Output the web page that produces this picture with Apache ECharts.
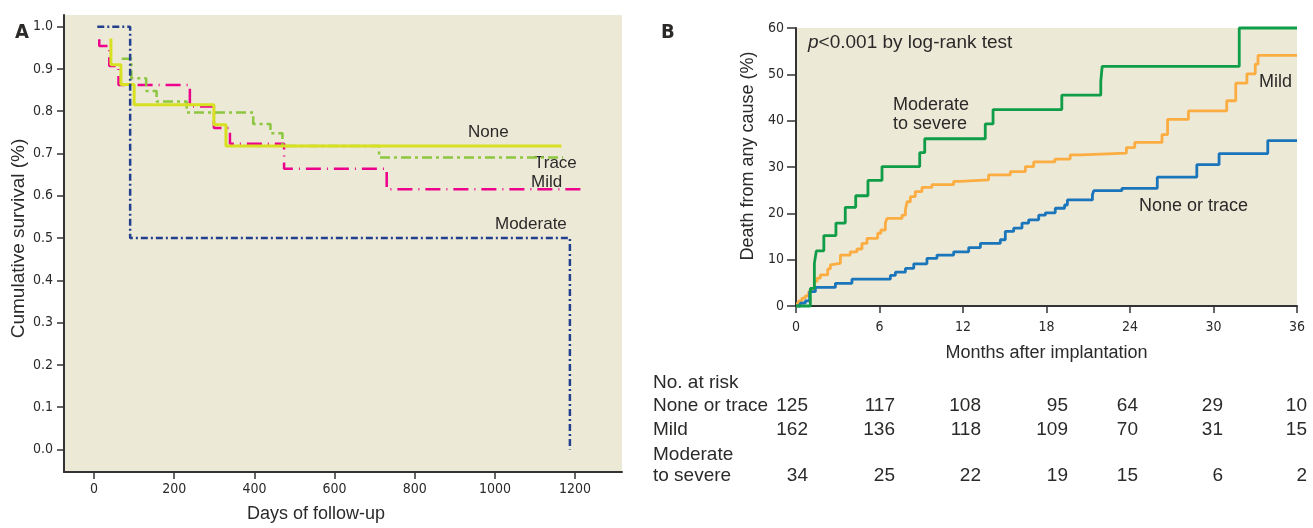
<!DOCTYPE html>
<html>
<head>
<meta charset="utf-8">
<script src="https://cdn.jsdelivr.net/npm/echarts@6/dist/echarts.min.js"></script>
<style>
html,body{margin:0;padding:0;background:#fff;}
#c{width:1313px;height:528px;}
</style>
</head>
<body>
<div id="c"></div>
<script>
// ---------- Panel A data (days, cumulative survival), step points ----------
const aNone     = [[42,0.972],[42,0.91],[67,0.863],[100,0.815],[299,0.768],[329,0.7176],[1166,0.7176]];
const aTrace    = [[69,0.924],[93,0.878],[130,0.848],[156,0.823],[231,0.797],[397,0.77],[440,0.748],[470,0.7176],[711,0.6905],[1170,0.6905]];
const aMild     = [[13,0.97],[13,0.954],[38,0.907],[61,0.862],[239,0.811],[299,0.76],[339,0.723],[474,0.664],[730,0.6155],[1220,0.6155]];
const aModerate = [[8,1.0],[90,0.5],[1187,0.0]];
const aYTicks = [0,0.1,0.2,0.3,0.4,0.5,0.6,0.7,0.8,0.9,1.0];
const aXTicks = [0,200,400,600,800,1000,1200];

// ---------- Panel B data (months, death %), step points ----------
const bNoneTrace = [[0,0],[0.3,0.6],[0.67,1.1],[0.98,3.1],[1.39,4.0],[2.83,4.9],[4.02,5.8],[6.78,6.6],[7.14,7.3],[7.86,8.1],[8.46,9.1],[9.41,10.3],[10.13,11.0],[11.33,11.7],[12.41,12.6],[13.25,13.5],[14.68,14.3],[15.04,16.1],[15.64,16.8],[16.24,17.9],[16.72,18.6],[17.44,19.6],[17.92,20.1],[18.63,21.1],[19.3,21.8],[19.5,22.9],[21.3,24.0],[21.4,24.9],[23.42,25.4],[25.96,27.8],[28.8,30.5],[30.4,32.9],[33.9,35.7],[36,35.7]];
const bMild = [[0,0.5],[0.19,1.1],[0.43,1.7],[0.67,2.2],[0.91,3.1],[1.15,3.8],[1.32,5.3],[1.51,6.0],[1.75,6.7],[2.28,8.0],[2.47,8.9],[2.59,9.2],[3.19,11.0],[3.9,11.7],[4.38,12.3],[4.74,13.5],[5.1,14.6],[5.87,15.7],[6.1,16.4],[6.42,17.9],[6.54,18.9],[7.62,19.6],[7.86,20.7],[7.98,22.5],[8.22,23.6],[8.57,24.7],[9.05,25.6],[9.77,26.2],[11.33,26.9],[11.81,27.2],[13.84,28.3],[15.4,29.0],[16.48,30.1],[17.08,31.1],[18.6,31.7],[19.7,32.6],[20.5,33.0],[23.74,34.2],[24.34,35.3],[26.3,37.0],[26.7,40.3],[28.2,42.1],[30.95,44.3],[31.6,48.1],[32.4,50.1],[33.0,52.2],[33.2,54.1],[36,54.1]];
const bModSevere = [[0,0],[1.03,3.8],[1.32,9.2],[1.46,11.9],[2.0,15.2],[2.87,17.9],[3.54,21.3],[4.29,23.8],[5.17,27.1],[6.18,30.1],[8.89,33.1],[9.25,36.1],[13.6,39.3],[14.16,42.4],[19.1,45.5],[21.9,48.5],[22.0,51.7],[31.85,60],[36,60]];

// ---------- Number at risk ----------
const riskTimes = [0,6,12,18,24,30,36];
const riskNone = [125,117,108,95,64,29,10];
const riskMild = [162,136,118,109,70,31,15];
const riskMod  = [34,25,22,19,15,6,2];

// ---------- layout / style ----------
const BG = '#ece9d7';
const TXT = '#2b2a29';
const narrow = '"Liberation Sans Narrow","DejaVu Sans Condensed",sans-serif';
const reg = '"Liberation Sans",Arial,sans-serif';
const colRight = [808,895,981,1068,1138,1223,1307];

const chart = echarts.init(document.getElementById('c'));

function axisCommon(){
  return {
    axisLine:{show:true,onZero:false,lineStyle:{color:'#333',width:2}},
    axisTick:{show:true,inside:false,length:7,lineStyle:{color:'#333',width:1.5}},
    splitLine:{show:false},
  };
}

const graphics = [];
function txt(x,y,text,opts){
  graphics.push(Object.assign({type:'text',x:x,y:y,silent:true,
    style:Object.assign({text:text,fill:TXT,font:'17px '+reg,align:'left',verticalAlign:'middle'},opts||{})}));
}
// Panel A curve labels
txt(468,132,'None',{font:'17px '+reg});
txt(534,163,'Trace',{font:'17px '+reg});
txt(531,182,'Mild',{font:'17px '+reg});
txt(495,224,'Moderate',{font:'17px '+reg});
// Panel B labels
graphics.push({type:'text',x:808,y:43,silent:true,style:{text:'{i|p}<0.001 by log-rank test',fill:TXT,font:'19px '+reg,verticalAlign:'middle',
  rich:{i:{fontStyle:'italic',font:'italic 19px '+reg,fill:TXT}}}});
txt(893,105,'Moderate',{font:'18px '+reg});
txt(893,124,'to severe',{font:'18px '+reg});
txt(1259,82,'Mild',{font:'18px '+reg});
txt(1139,206,'None or trace',{font:'18px '+reg});
// risk table
const tf = '19px '+reg;
txt(653,383,'No. at risk',{font:tf});
txt(653,406,'None or trace',{font:tf});
txt(653,430,'Mild',{font:tf});
txt(653,455,'Moderate',{font:tf});
txt(653,476,'to severe',{font:tf});
riskTimes.forEach(function(t,i){
  txt(colRight[i],406,String(riskNone[i]),{font:tf,align:'right'});
  txt(colRight[i],430,String(riskMild[i]),{font:tf,align:'right'});
  txt(colRight[i],476,String(riskMod[i]),{font:tf,align:'right'});
});

const option = {
  animation:false,
  backgroundColor:'#fff',
  title:[
    {text:'A',left:10,top:18,textStyle:{fontFamily:narrow,fontWeight:'bold',fontSize:20,color:TXT}},
    {text:'B',left:656,top:18,textStyle:{fontFamily:narrow,fontWeight:'bold',fontSize:20,color:TXT}}
  ],
  grid:[
    {left:64,top:15,width:558,height:460,show:true,backgroundColor:BG,borderWidth:0},
    {left:796,top:28,width:501,height:278,show:true,backgroundColor:BG,borderWidth:0}
  ],
  xAxis:[
    Object.assign(axisCommon(),{
      type:'value',gridIndex:0,min:-75,max:1317,
      name:'Days of follow-up',nameLocation:'middle',nameGap:33,
      nameTextStyle:{fontFamily:reg,fontSize:18,color:TXT,padding:[0,54,0,0]},
      axisTick:{show:true,length:7,customValues:aXTicks,lineStyle:{color:'#333',width:1.5}},
      axisLabel:{customValues:aXTicks,margin:10,fontFamily:narrow,fontSize:14,color:TXT,
        formatter:function(v){return String(Math.round(v));}}
    }),
    Object.assign(axisCommon(),{
      type:'value',gridIndex:1,min:0,max:36,interval:6,
      name:'Months after implantation',nameLocation:'middle',nameGap:38,
      nameTextStyle:{fontFamily:reg,fontSize:18,color:TXT},
      axisLabel:{margin:14,fontFamily:narrow,fontSize:14,color:TXT}
    })
  ],
  yAxis:[
    Object.assign(axisCommon(),{
      type:'value',gridIndex:0,min:-0.0533,max:1.0275,
      name:'Cumulative survival (%)',nameLocation:'middle',nameGap:36,
      nameTextStyle:{fontFamily:reg,fontSize:19,color:TXT,padding:[0,0,0,10]},
      axisTick:{show:true,length:7,customValues:aYTicks,lineStyle:{color:'#333',width:1.5}},
      axisLabel:{customValues:aYTicks,margin:11,fontFamily:narrow,fontSize:14,color:TXT,
        formatter:function(v){return Number(v).toFixed(1);}}
    }),
    Object.assign(axisCommon(),{
      type:'value',gridIndex:1,min:0,max:60,interval:10,
      name:'Death from any cause (%)',nameLocation:'middle',nameGap:39,
      nameTextStyle:{fontFamily:reg,fontSize:18,color:TXT,padding:[0,0,0,22]},
      axisTick:{show:true,length:9,lineStyle:{color:'#333',width:1.5}},
      axisLabel:{margin:12,fontFamily:narrow,fontSize:14,color:TXT}
    })
  ],
  series:[
    {name:'Mild',type:'line',xAxisIndex:0,yAxisIndex:0,step:'end',data:aMild,showSymbol:false,symbol:'none',clip:false,
      lineStyle:{color:'#ec008c',width:2.5,type:[15,6,1,6]}},
    {name:'Trace',type:'line',xAxisIndex:0,yAxisIndex:0,step:'end',data:aTrace,showSymbol:false,symbol:'none',clip:false,
      lineStyle:{color:'#8dc63f',width:2.5,type:[10,4,3,4]}},
    {name:'None',type:'line',xAxisIndex:0,yAxisIndex:0,step:'end',data:aNone,showSymbol:false,symbol:'none',clip:false,
      lineStyle:{color:'#d7e021',width:3}},
    {name:'Moderate',type:'line',xAxisIndex:0,yAxisIndex:0,step:'end',data:aModerate,showSymbol:false,symbol:'none',clip:false,
      lineStyle:{color:'#23408e',width:2.5,type:[7,3,2,3]}},
    {name:'Mild (B)',type:'line',xAxisIndex:1,yAxisIndex:1,step:'end',data:bMild,showSymbol:false,symbol:'none',clip:false,
      lineStyle:{color:'#fbad42',width:2.8}},
    {name:'None or trace',type:'line',xAxisIndex:1,yAxisIndex:1,step:'end',data:bNoneTrace,showSymbol:false,symbol:'none',clip:false,
      lineStyle:{color:'#1b75bb',width:2.8}},
    {name:'Moderate to severe',type:'line',xAxisIndex:1,yAxisIndex:1,step:'end',data:bModSevere,showSymbol:false,symbol:'none',clip:false,
      lineStyle:{color:'#0f9d48',width:2.8}}
  ],
  graphic:graphics
};
chart.setOption(option);
</script>
</body>
</html>
